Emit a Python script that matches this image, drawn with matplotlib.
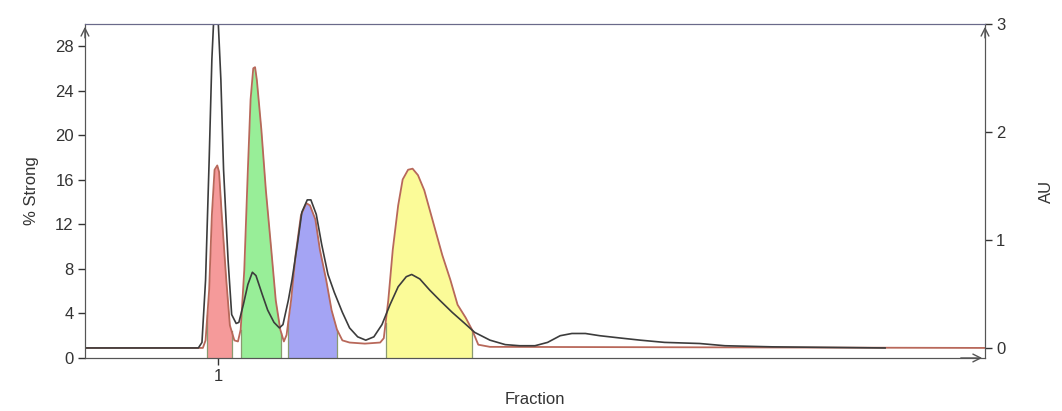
import matplotlib.pyplot as plt
import numpy as np

plt.rcParams['font.family'] = ['Liberation Sans', 'DejaVu Sans']

# black trace (% Strong, left axis)
black_x = [0, 12.6, 13.0, 13.4, 13.8, 14.1, 14.3, 14.6, 14.8, 15.1, 15.4, 15.9, 16.3, 16.8,
           17.1, 17.6, 18.1, 18.6, 19.0, 19.7, 20.3, 21.0, 21.6, 22.0, 22.6, 23.0, 23.6,
           24.1, 24.7, 25.1, 25.7, 26.3, 27.0, 27.7, 28.6, 29.4, 30.3, 31.2, 32.1, 33.0,
           33.9, 34.8, 35.7, 36.3, 37.2, 38.3, 39.4, 40.8, 42.2, 43.3, 45.0, 46.7, 48.3,
           50.0, 51.4, 52.8, 54.1, 55.6, 57.2, 59.4, 61.7, 64.4, 68.3, 71.1, 76.4, 88.9]
black_y = [0.9, 0.9, 1.4, 7.0, 17.8, 26.8, 30.3, 30.9, 30.3, 25.0, 16.9, 8.8, 3.9, 3.1,
           3.2, 4.8, 6.6, 7.7, 7.4, 5.7, 4.3, 3.2, 2.7, 3.0, 5.2, 7.0, 10.2,
           13.1, 14.2, 14.2, 12.9, 10.2, 7.5, 5.9, 4.1, 2.7, 1.9, 1.6, 1.9, 3.0,
           4.8, 6.4, 7.3, 7.5, 7.1, 6.1, 5.2, 4.1, 3.1, 2.3, 1.6, 1.2, 1.1,
           1.1, 1.4, 2.0, 2.2, 2.2, 2.0, 1.8, 1.6, 1.4, 1.3, 1.1, 1.0, 0.9]

# red trace (AU, right axis)
red_x = [0, 13.1, 13.4, 13.8, 14.1, 14.4, 14.7, 14.9, 15.2, 15.7, 16.1, 16.6, 17.0,
         17.3, 17.7, 18.1, 18.4, 18.7, 18.9, 19.1, 19.6, 20.1, 20.7, 21.2, 21.7, 22.1,
         22.4, 22.9, 23.4, 24.0, 24.6, 25.0, 25.6, 26.1, 26.8, 27.4, 28.0, 28.6, 29.4,
         31.1, 32.8, 33.2, 33.7, 34.2, 34.8, 35.3, 35.9, 36.4, 37.0, 37.7, 38.3, 39.0,
         39.7, 40.6, 41.4, 42.3, 43.0, 43.7, 45.0, 100]
red_y = [0, 0, 0.07, 0.54, 1.23, 1.65, 1.69, 1.63, 1.23, 0.63, 0.21, 0.07, 0.06,
         0.17, 0.72, 1.65, 2.30, 2.59, 2.60, 2.48, 2.02, 1.46, 0.91, 0.44, 0.17, 0.06,
         0.12, 0.44, 0.86, 1.23, 1.34, 1.32, 1.19, 0.91, 0.63, 0.35, 0.17, 0.07, 0.05,
         0.04, 0.05, 0.09, 0.44, 0.91, 1.32, 1.56, 1.65, 1.66, 1.60, 1.46, 1.28, 1.07,
         0.86, 0.63, 0.40, 0.28, 0.17, 0.03, 0.01, 0]

# pooled fractions: start, end, colour
pool_start = [13.6, 17.3, 22.6, 33.4]
pool_end = [16.3, 21.8, 28.0, 43.0]
pool_colors = ['#f59a9a', '#98ee98', '#a4a4f4', '#fbfb98']

au_lim = (-0.093, 3)

fig = plt.figure(figsize=(10.62, 4.11), dpi=100)
ax = fig.add_axes([0.080, 0.129, 0.8475, 0.8127])
ax2 = ax.twinx()

ax.set_xlim(0, 100)
ax.set_ylim(0, 30)
ax2.set_ylim(*au_lim)

# fills under the red trace
for x0, x1, c in zip(pool_start, pool_end, pool_colors):
    xs = [x for x in red_x if x0 < x < x1]
    ys = [y for x, y in zip(red_x, red_y) if x0 < x < x1]
    e0 = float(np.interp(x0, red_x, red_y))
    e1 = float(np.interp(x1, red_x, red_y))
    xs = [x0] + xs + [x1]
    ys = [e0] + ys + [e1]
    ax2.fill_between(xs, au_lim[0], ys, color=c, lw=0)
    ax2.plot([x0, x0], [au_lim[0], e0], color='#8a9a70', lw=0.9)
    ax2.plot([x1, x1], [au_lim[0], e1], color='#8a9a70', lw=0.9)

ax2.plot(red_x, red_y, color='#b8685a', lw=1.3)
ax.plot(black_x, black_y, color='#3c3c3c', lw=1.2)

ax.set_zorder(ax2.get_zorder() + 1)
ax.patch.set_visible(False)

# ticks and spines
for a in (ax, ax2):
    for s in a.spines.values():
        s.set_color('#555555')
    a.spines['top'].set_color('#6a6a8a')

ax.set_yticks(range(0, 29, 4))
ax.set_xticks([14.8])
ax.set_xticklabels(['1'])
ax2.set_yticks([0, 1, 2, 3])
ax.tick_params(axis='both', labelsize=12, length=5, colors='#333333', width=1, pad=3)
ax2.tick_params(axis='y', labelsize=12, length=5, colors='#333333', width=1, pad=3)

ax.set_ylabel('% Strong', fontsize=12, color='#333333', labelpad=12)
ax2.set_ylabel('AU', fontsize=12, color='#333333', labelpad=24)
ax.set_xlabel('Fraction', fontsize=12, color='#333333', labelpad=6)

# arrow heads on the axes
arrow = dict(arrowstyle='->', color='#555555', lw=1, mutation_scale=14)
ax.annotate('', xy=(0, 1), xytext=(0, 0.95), xycoords='axes fraction', arrowprops=arrow)
ax.annotate('', xy=(1, 1), xytext=(1, 0.95), xycoords='axes fraction', arrowprops=arrow)
ax.annotate('', xy=(1, 0), xytext=(0.97, 0), xycoords='axes fraction', arrowprops=arrow)

fig.savefig('out.png', dpi=100)
